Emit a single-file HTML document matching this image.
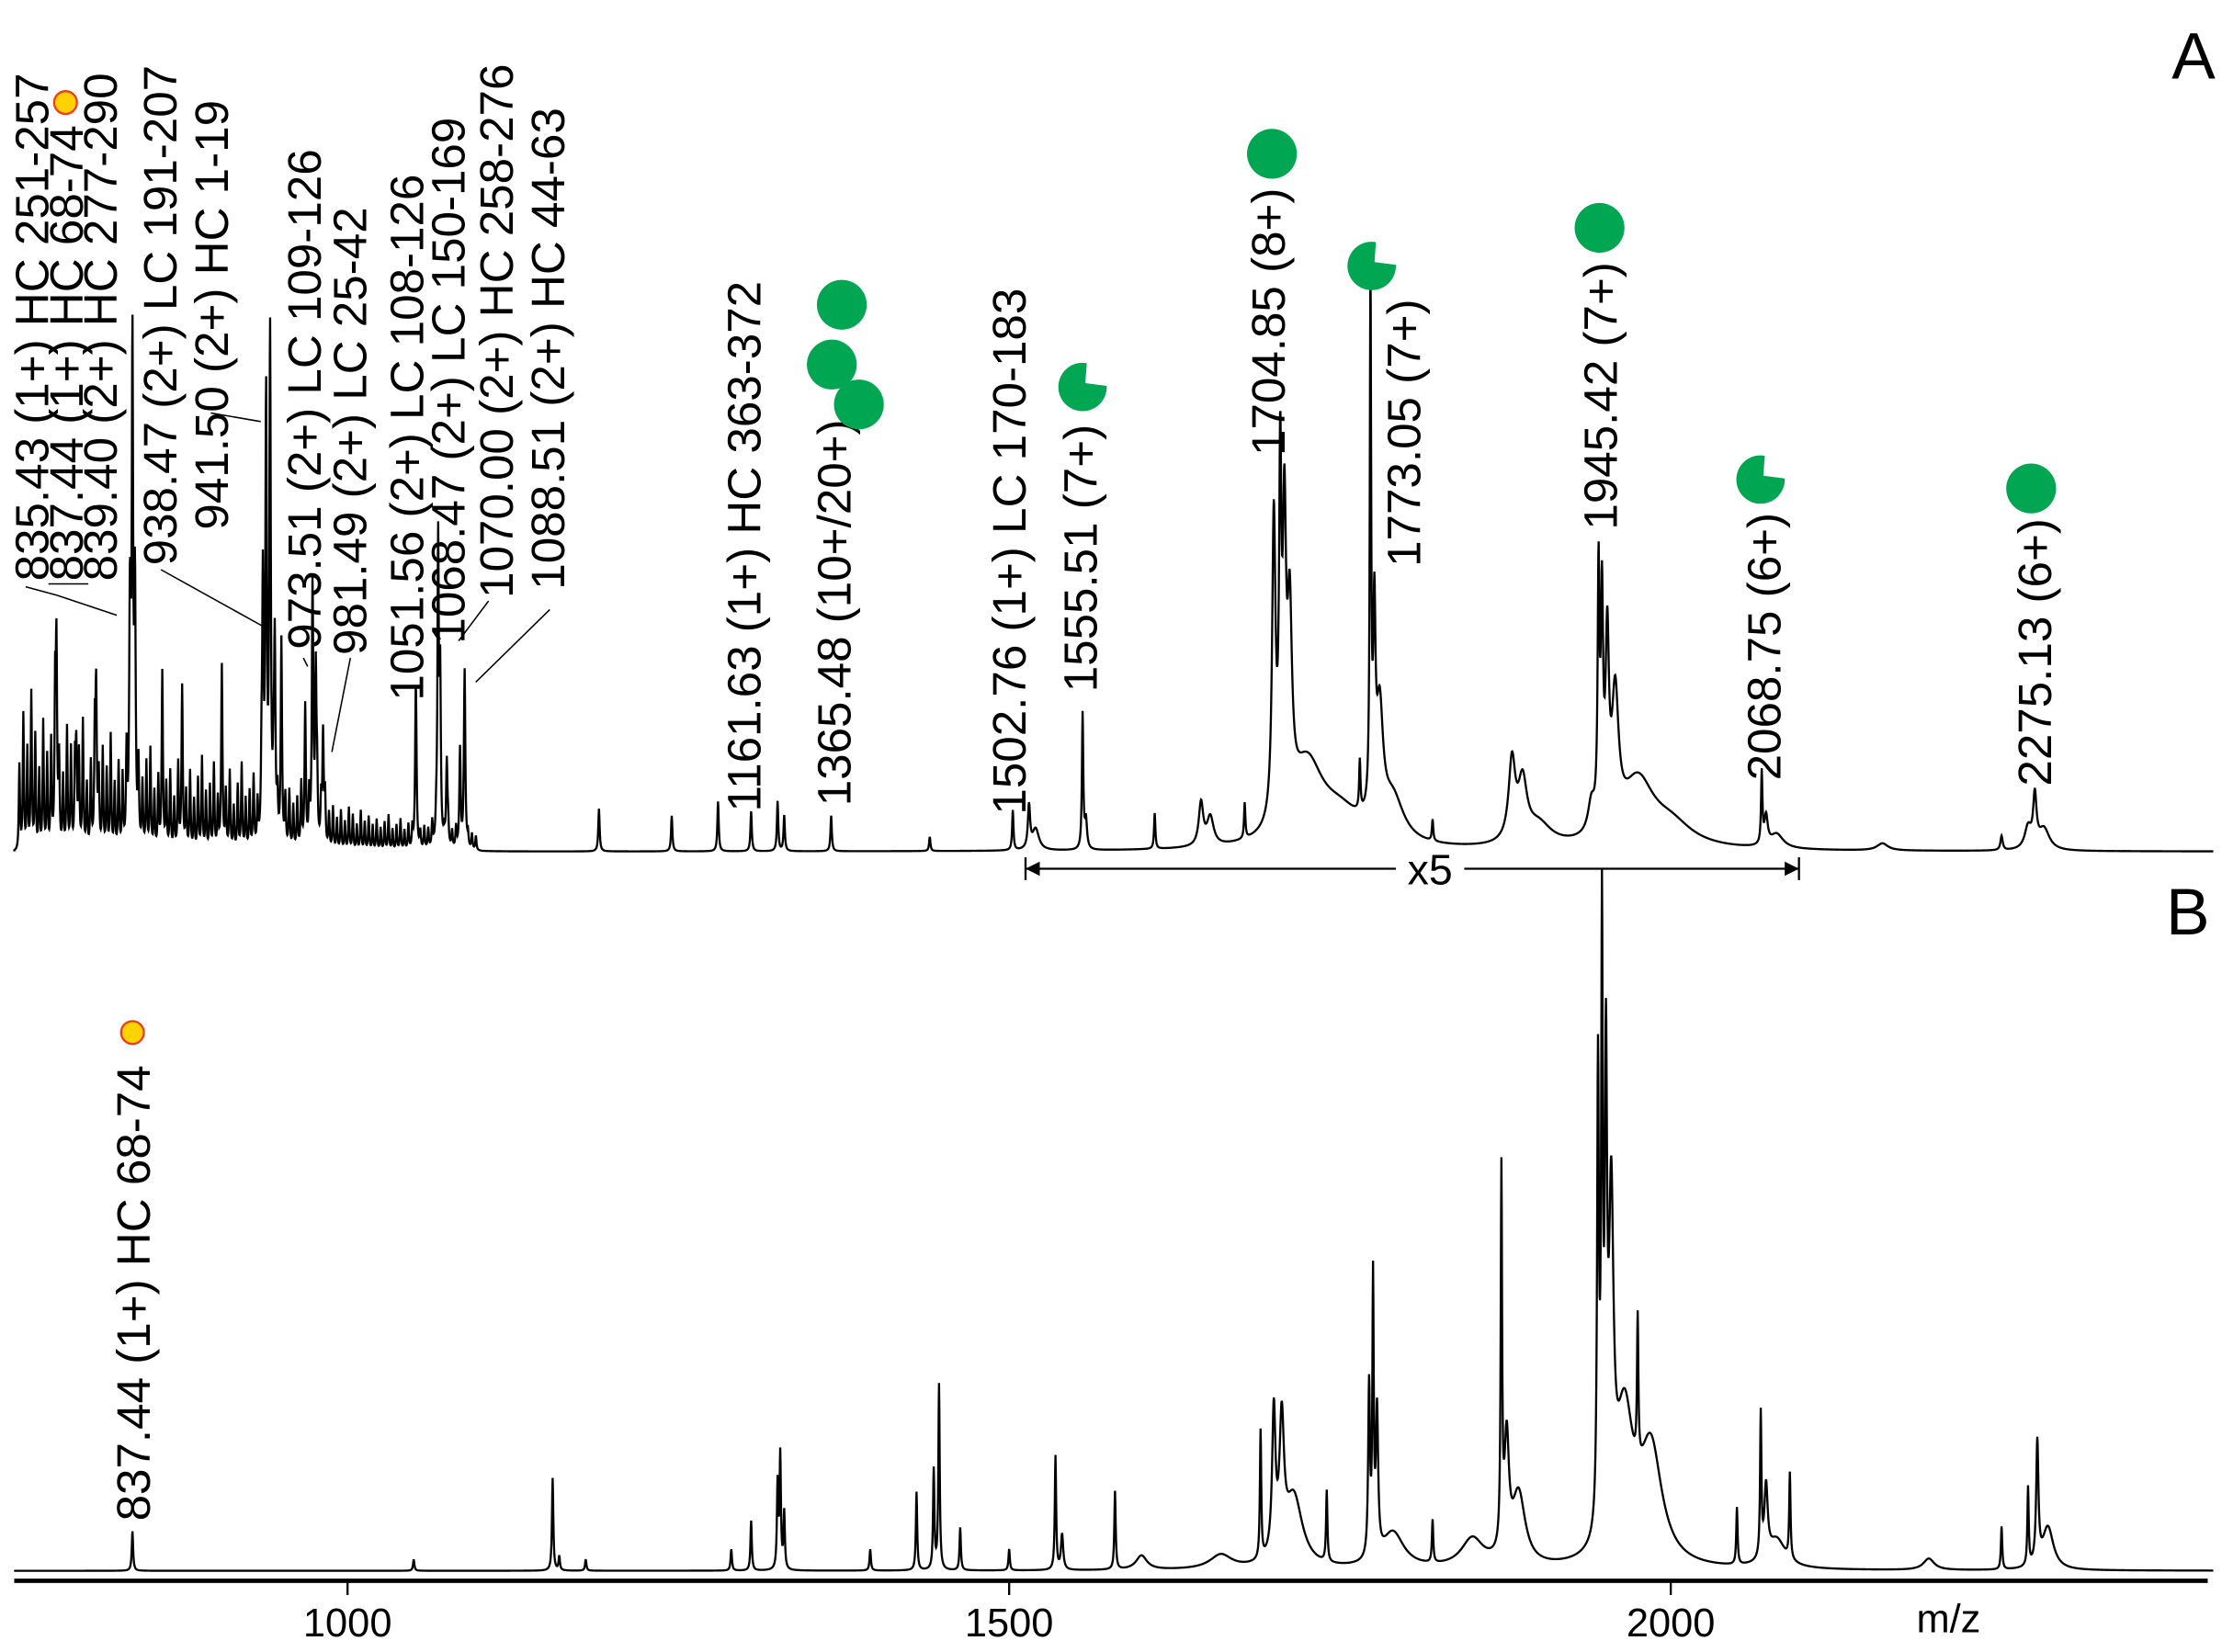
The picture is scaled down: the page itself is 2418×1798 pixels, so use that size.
<!DOCTYPE html>
<html><head><meta charset="utf-8"><style>
html,body{margin:0;padding:0;background:#fff}
svg{display:block}
text{font-family:"Liberation Sans",Arial,sans-serif;fill:#000}
</style></head><body>
<svg id="chart" width="2418" height="1798" viewBox="0 0 1560 1160" preserveAspectRatio="none" xmlns="http://www.w3.org/2000/svg">
<rect x="0" y="0" width="1560" height="1160" fill="#fff"/>
<g id="panelA"></g>
<g id="panelB"></g>
<g id="axis"></g>
<g id="labels"></g>
<g id="glyphs"></g>
</svg>
<script>
// ---- data ----
const xTicks = [1000, 1500, 2000];
const mzMin = 748, mzMax = 2410;
// panel A peaks: centre m/z, intensity, width
const peakMzA = [780,795,810,835.43,837.44,839.40,860,875,905,936,938.47,941.50,945,950,968,973.51,976,981.49,1051.56,1068.47,1070.0,1075,1085,1088.51,1190,1245,1280,1305,1325,1330,1365.48,1440,1502.76,1515,1520,1555.51,1558,1610,1645,1652,1678,1700,1704.85,1708,1712,1725,1750,1765,1773.05,1776,1780,1790,1820,1880,1888,1900,1940,1945.42,1948,1952,1958,1975,2000,2068.75,2072,2080,2160,2250,2270,2275.13,2282];
const peakHA  = [140,70,110,130,345,150,60,70,80,180,290,330,140,100,70,170,120,80,105,215,100,60,60,120,30,25,35,28,35,25,25,10,28,30,15,95,20,25,30,20,25,210,225,190,130,55,20,35,370,130,80,30,15,55,40,15,20,170,150,125,90,45,15,50,20,10,5,10,15,35,15];
const peakWA  = [.6,.6,.6,.6,.6,.6,.6,.6,.6,.6,.6,.6,.6,.6,.6,.6,.6,.6,.6,.6,.6,.6,.6,.6,.6,.6,.6,.6,.6,.6,.6,.6,.6,1,3,.6,1,.6,2,3,.6,1.5,1,1.5,2,15,20,.6,.6,1,3,10,.6,3,4,12,3,.8,1,1.5,3,15,20,.6,1.5,6,5,1,3,1.5,5];
// panel A dense low-mass background (one value every 3 m/z from 752)
const noiseA = [60,95,70,110,80,55,90,65,75,100,60,50,85,70,55,65,90,45,60,75,50,70,55,80,45,60,50,65,75,40,55,45,60,70,40,50,65,45,55,35,60,45,40,55,35,50,65,40,45,60,35,50,40,55,30,45,60,35,40,50,30,45,35,50,40,30,45,35,40,30,35,45,30,35,25,40,30,35,25,30,22,28,20,30,25,18,28,20,24,18,22,16,20,25,15,18,22,14,18,15,20,12,16,14,18,12,15,10,14,12,15,10,12,9,11,10];
// panel B peaks
const peakMzB = [837.44,1050,1155,1160,1180,1290,1305,1325,1327,1330,1395,1430,1443,1447,1463,1500,1535,1540,1580,1600,1660,1690,1700,1706,1715,1740,1775,1772,1778,1790,1820,1850,1872,1876,1885,1945,1948,1951,1955,1965,1985,1975,2050,2068,2072,2090,2080,2195,2250,2270,2277,2285];
const peakHB  = [28,8,65,10,8,15,35,60,80,40,15,55,70,130,30,15,80,25,55,10,10,90,100,90,50,50,190,120,100,25,30,20,260,80,50,320,400,300,220,100,80,100,40,100,50,60,20,8,30,55,85,30];
const peakWB  = [.6,.6,.6,.6,.6,.6,.6,.6,.6,.6,.6,.6,.6,.6,.6,.6,.6,1,.6,5,10,.6,1.5,2,8,.6,.6,.8,1,10,.6,10,.6,2,6,.8,.7,1,2,8,10,.6,.6,.6,1.5,.6,8,5,.6,.6,1,5];

const NS = "http://www.w3.org/2000/svg";
const xOf = mz => 244 + (mz - 1000) * 0.929;
function mk(tag, attrs, parent){const e=document.createElementNS(NS,tag);for(const k in attrs)e.setAttribute(k,attrs[k]);parent.appendChild(e);return e;}

function spectrum(mzs, hs, ws, noise, noiseStart, noiseStep, base){
  let d = "";
  for(let mz = mzMin; mz <= mzMax; mz += 0.25){
    let v = 2;
    for(let i=0;i<mzs.length;i++){const t=(mz-mzs[i])/ws[i]; v += hs[i]/(1+t*t);}
    if(noise){
      for(let j=0;j<noise.length;j++){const c=noiseStart+j*noiseStep; const t=(mz-c)/0.5; if(Math.abs(t)<8) v += noise[j]/(1+t*t);}
    }
    d += (d ? "L" : "M") + xOf(mz).toFixed(2) + " " + (base - v).toFixed(2);
  }
  return d;
}
const gA = document.getElementById('panelA');
const pA = mk('path',{d:spectrum(peakMzA,peakHA,peakWA,noiseA,752,3,600),fill:'none',stroke:'#000','stroke-width':1.5},gA);


const gB = document.getElementById('panelB');
const pB = mk('path',{d:spectrum(peakMzB,peakHB,peakWB,null,0,0,1105),fill:'none',stroke:'#000','stroke-width':1.5},gB);



// axis
const gX = document.getElementById('axis');
const ax = mk('line',{x1:10,y1:1110,x2:1550,y2:1110,stroke:'#000','stroke-width':3},gX);


xTicks.forEach(t=>{
  const tk = mk('line',{x1:xOf(t),y1:1110,x2:xOf(t),y2:1120,stroke:'#000','stroke-width':1.5},gX);
  
  
  const tl = mk('text',{x:xOf(t),y:1149,'font-size':28,'text-anchor':'middle'},gX);
  tl.textContent = t;
  
  
});
const mzl = mk('text',{x:1368,y:1146,'font-size':28,'text-anchor':'middle'},gX);
mzl.textContent='m/z';



// labels: glyph centre x, bottom y, text
const labX = [22,46,70,112,148,213,245,285,314,348,384,522,585,708,758,890,985,1123,1238,1428,93];
const labY = [408,408,408,397,372,456,460,492,452,420,414,570,566,572,486,320,398,372,548,552,1068];
const labT = ["835.43 (1+) HC 251-257","837.44 (1+) HC 68-74","839.40 (2+) HC 277-290","938.47 (2+) LC 191-207","941.50 (2+) HC 1-19","973.51 (2+) LC 109-126","981.49 (2+) LC 25-42","1051.56 (2+) LC 108-126","1068.47 (2+) LC 150-169","1070.00 (2+) HC 258-276","1088.51 (2+) HC 44-63","1161.63 (1+) HC 363-372","1365.48 (10+/20+)","1502.76 (1+) LC 170-183","1555.51 (7+)","1704.85 (8+)","1773.05 (7+)","1945.42 (7+)","2068.75 (6+)","2275.13 (6+)","837.44 (1+) HC 68-74"];
const gL = document.getElementById('labels');
labT.forEach((t,i)=>{
  const e = mk('text',{transform:`translate(${labX[i]+12},${labY[i]}) rotate(-90)`,'font-size':33},gL);
  e.textContent=t;
  
  
});
// leader lines
const leaders = [[18,412,40,418],[40,418,82,432],[34,410,62,410],[185,440,113,400],[183,296,148,290],[213,462,216,468],[246,462,233,528],[343,422,322,450],[386,428,334,479]];
leaders.forEach(l=>{
  const e=mk('line',{x1:l[0],y1:l[1],x2:l[2],y2:l[3],stroke:'#000','stroke-width':1},gL);
  
  
});
// x5 bracket
const br=[['line',{x1:720,y1:610,x2:980,y2:610}],['line',{x1:1028,y1:610,x2:1263,y2:610}],['line',{x1:720,y1:602,x2:720,y2:618}],['line',{x1:1263,y1:602,x2:1263,y2:618}]];
br.forEach(b=>{const e=mk(b[0],Object.assign({stroke:'#000','stroke-width':1.5},b[1]),gL);
  
  });
mk('path',{d:'M720 610 l10 -5 v10z M1263 610 l-10 -5 v10z',fill:'#000'},gL);
const x5=mk('text',{x:1004,y:621,'font-size':30,'text-anchor':'middle'},gL);x5.textContent='x5';


const pa=mk('text',{x:1540,y:55,'font-size':46,'text-anchor':'middle'},gL);pa.textContent='A';


const pb=mk('text',{x:1536,y:656,'font-size':46,'text-anchor':'middle'},gL);pb.textContent='B';



// glyphs
const gG = document.getElementById('glyphs');
const circles = [[591,214],[584,256],[603,284],[893,108],[1123,160],[1426,343]];
circles.forEach(c=>{const e=mk('circle',{cx:c[0],cy:c[1],r:17.5,fill:'#00a651'},gG);
  
  });
const pacs = [[760,272],[963,187],[1236,337]];
pacs.forEach(c=>{const [x,y]=c;
  const e=mk('path',{d:`M${x+2} ${y-3} L${x+17} ${y-1} A17 17 0 1 1 ${x+3} ${y-17} Z`,fill:'#00a651'},gG);
  
  });
const yel = [[46,72],[93,725]];
yel.forEach(c=>{const e=mk('circle',{cx:c[0],cy:c[1],r:8,fill:'#ffd200',stroke:'#f03c1e','stroke-width':1.5},gG);
  
  });
</script>
</body></html>
